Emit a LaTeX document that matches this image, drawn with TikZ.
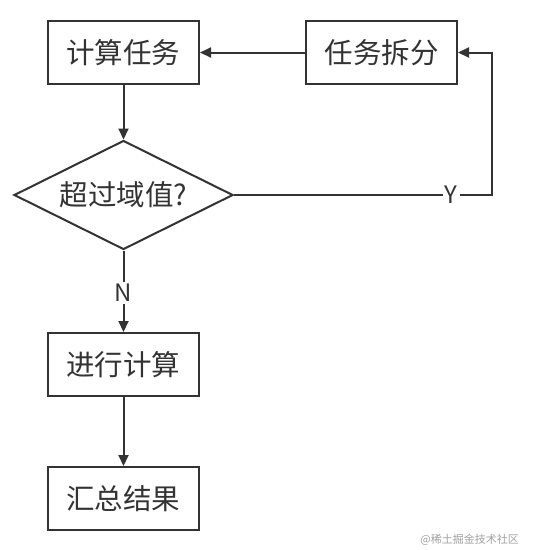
\documentclass[tikz,border=0pt]{standalone}
\usepackage{fontspec}
\setmainfont{Noto Sans CJK SC}
\usetikzlibrary{arrows.meta,shapes.geometric}
\definecolor{ink}{HTML}{333333}
\definecolor{wm}{HTML}{A0A0A0}
\begin{document}
\begin{tikzpicture}[x=1pt,y=-1pt,
  box/.style={draw=ink,line width=2pt,minimum width=151pt,minimum height=63pt,inner sep=0pt,text=ink,font=\fontsize{28.5}{30}\selectfont},
  decision/.style={diamond,aspect=2.01,draw=ink,line width=2pt,minimum width=219pt,minimum height=109pt,inner sep=0pt,text=ink,font=\fontsize{28.5}{30}\selectfont},
  conn/.style={draw=ink,line width=2pt,-{Triangle[length=11pt,width=10pt]}},
  lbl/.style={fill=white,text=ink,inner sep=2pt,font=\fontsize{24}{25}\selectfont}]
\useasboundingbox (0,0) rectangle (533,550);
\node[box] (calc) at (123.5,52.5) {计算任务};
\node[box] (split) at (381.5,52.5) {任务拆分};
\node[decision] (dec) at (123.5,195) {超过域值?};
\node[box] (run) at (123.5,364.5) {进行计算};
\node[box] (sum) at (123.5,498.5) {汇总结果};
\coordinate (c1) at (492,195);
\draw[conn] (split) -- (calc);
\draw[conn] (calc) -- (dec);
\draw[conn] (dec.east) -- node[lbl,pos=0.842] (y) {Y} (c1) |- (split.east);
\draw[conn] (dec.south) -- node[lbl,pos=0.52] (n) {N} (run.north);
\draw[conn] (run) -- (sum);
\node[anchor=east,text=wm,inner sep=0pt,font=\fontsize{11}{12}\selectfont] (wmark) at (519,540) {@稀土掘金技术社区};
\end{tikzpicture}
\end{document}
